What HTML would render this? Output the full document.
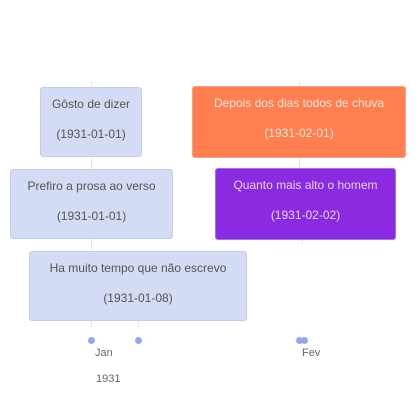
<!DOCTYPE html>
<html><head><meta charset="utf-8"><style>
body{margin:0;width:419px;height:420px;background:#fff;position:relative;overflow:hidden;font-family:"Liberation Sans",sans-serif;}
.b{position:absolute;box-sizing:border-box;border-radius:3px;text-align:center;font-size:12px;line-height:30px;padding-top:1px;}
.l{background:#d3dcf4;border:1px solid #c2cdef;color:#555;}
.ln{position:absolute;width:1px;background:#dfe5f7;}
.d{position:absolute;width:7px;height:7px;border-radius:50%;background:#93a9ef;}
.t{position:absolute;font-size:11px;color:#666;}
</style></head><body>
<div class="ln" style="left:91px;top:82px;height:5px"></div>
<div class="ln" style="left:91px;top:157px;height:12px"></div>
<div class="ln" style="left:91px;top:239px;height:12px"></div>
<div class="ln" style="left:91px;top:321px;height:6px"></div>
<div class="ln" style="left:138px;top:321px;height:6px"></div>
<div class="ln" style="left:299px;top:82px;height:4px"></div>
<div class="ln" style="left:299px;top:158px;height:10px"></div>
<div class="ln" style="left:302px;top:240px;height:4px"></div>
<div class="b l" style="left:40px;top:87px;width:102px;height:70px">Gôsto de dizer<br>(1931-01-01)</div>
<div class="b l" style="left:10px;top:169px;width:163px;height:70px">Prefiro a prosa ao verso<br>(1931-01-01)</div>
<div class="b l" style="left:29px;top:251px;width:218px;height:70px">Ha muito tempo que não escrevo<br>(1931-01-08)</div>
<div class="b" style="left:192px;top:86px;width:214px;height:72px;background:#ff7f50;border:1px solid #f5a080;color:#fde6dc">Depois dos dias todos de chuva<br>(1931-02-01)</div>
<div class="b" style="left:215px;top:168px;width:181px;height:72px;background:#8a2be2;border:1px solid #a070e8;color:#e4d2f8">Quanto mais alto o homem<br>(1931-02-02)</div>
<div class="d" style="left:88px;top:337px"></div>
<div class="d" style="left:135px;top:337px"></div>
<div class="d" style="left:296px;top:337px"></div>
<div class="d" style="left:301px;top:337px"></div>
<div class="t" style="left:95px;top:347px">Jan</div>
<div class="t" style="left:96px;top:373px">1931</div>
<div class="t" style="left:302px;top:347px">Fev</div>
</body></html>
